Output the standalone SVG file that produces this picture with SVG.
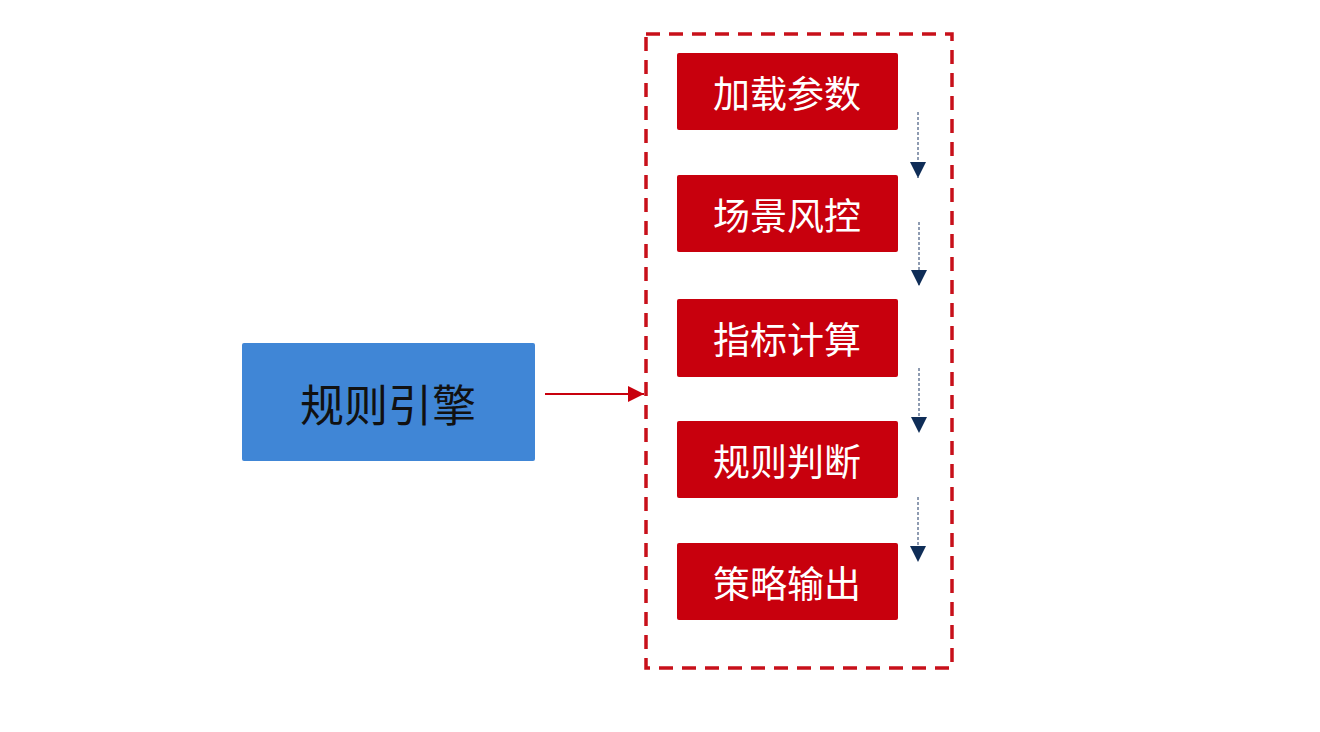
<svg xmlns="http://www.w3.org/2000/svg" width="1320" height="732" viewBox="0 0 1320 732">
<style>
.red{fill:#C8000D;}
.rt{fill:#fff;font-family:"Noto Sans CJK SC","Noto Sans",sans-serif;font-size:37px;text-anchor:middle;dominant-baseline:central;}
.bt{fill:#111;font-family:"Noto Sans CJK SC","Noto Sans",sans-serif;font-size:44px;text-anchor:middle;dominant-baseline:central;}
.small{stroke:#1F3864;stroke-width:1;stroke-dasharray:3,2;fill:none;}
</style>
<defs>
<marker id="nav" viewBox="0 0 10 10" refX="10" refY="5" markerWidth="16" markerHeight="16" markerUnits="userSpaceOnUse" orient="auto"><path d="M0,0L10,5L0,10z" fill="#0F2D57"/></marker>
<marker id="redh" viewBox="0 0 10 10" refX="10" refY="5" markerWidth="16" markerHeight="16" markerUnits="userSpaceOnUse" orient="auto"><path d="M0,0L10,5L0,10z" fill="#C8000D"/></marker>
</defs>
<rect width="1320" height="732" fill="#fff"/>
<rect x="646" y="34" width="306" height="634" fill="none" stroke="#C8101A" stroke-width="3.5" stroke-dasharray="14,9"/>
<g id="n0"><rect x="242" y="343" width="293" height="118" rx="2" fill="#4086D6"/><text class="bt" x="388" y="403">规则引擎</text></g>
<g id="n1"><rect class="red" x="677" y="53" width="221" height="77" rx="2"/><text class="rt" x="787" y="92">加载参数</text></g>
<g id="n2"><rect class="red" x="677" y="175" width="221" height="77" rx="2"/><text class="rt" x="787" y="214">场景风控</text></g>
<g id="n3"><rect class="red" x="677" y="299" width="221" height="78" rx="2"/><text class="rt" x="787" y="338">指标计算</text></g>
<g id="n4"><rect class="red" x="677" y="421" width="221" height="77" rx="2"/><text class="rt" x="787" y="460">规则判断</text></g>
<g id="n5"><rect class="red" x="677" y="543" width="221" height="77" rx="2"/><text class="rt" x="787" y="582">策略输出</text></g>
<g id="connectors">
<line x1="545" y1="394" x2="644" y2="394" stroke="#C8000D" stroke-width="2" marker-end="url(#redh)"/>
<line class="small" x1="918" y1="112" x2="918" y2="178" marker-end="url(#nav)"/>
<line class="small" x1="919" y1="222" x2="919" y2="286" marker-end="url(#nav)"/>
<line class="small" x1="919" y1="368" x2="919" y2="433" marker-end="url(#nav)"/>
<line class="small" x1="918" y1="497" x2="918" y2="562" marker-end="url(#nav)"/>
</g>
</svg>
